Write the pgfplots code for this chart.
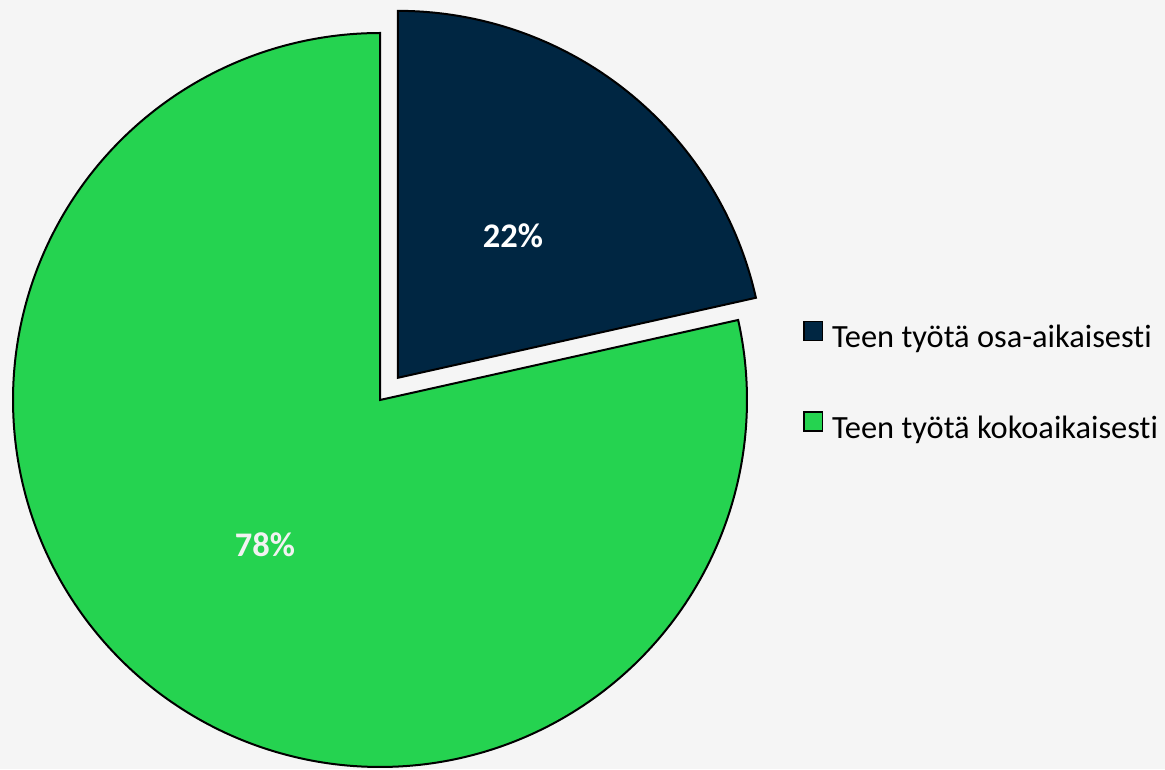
\documentclass[border=0pt]{standalone}
\usepackage{pgfplots}
\pgfplotsset{compat=1.18}
\usepackage{pgfplotstable}
\usepackage{fontspec}
\setmainfont[Ligatures={NoCommon}]{Carlito}
\definecolor{bg}{HTML}{F5F5F5}
\definecolor{navy}{HTML}{002642}
\definecolor{pgreen}{HTML}{25D350}
\definecolor{offwhite}{HTML}{F2F2F2}
\pgfplotstableread{
value
21.5
78.5
}\pietable
\pgfplotstablegetelem{0}{value}\of\pietable \let\va\pgfplotsretval
\pgfplotstablegetelem{1}{value}\of\pietable \let\vb\pgfplotsretval
\pgfmathsetmacro{\aend}{90-3.6*\va}
\pgfmathsetmacro{\gend}{\aend+360}
\pgfmathsetmacro{\amid}{(90+\aend)/2}
\pgfmathsetmacro{\cxa}{380+28.4*cos(\amid)}
\pgfmathsetmacro{\cya}{369+28.4*sin(\amid)}
\begin{document}
\begin{tikzpicture}
\begin{axis}[
  width=1165pt, height=769pt, scale only axis,
  xmin=0, xmax=1165, ymin=0, ymax=769,
  hide axis, clip=false,
  legend style={draw=none, fill=none, inner sep=0pt, outer sep=0pt, at={(axis cs:803,385.5)}, anchor=west,
    font=\fontsize{32.4}{38}\selectfont,
    nodes={inner sep=0pt, text height=21pt, text depth=8pt},
    row sep=56pt, column sep=9pt},
  legend cell align=left,
  legend image code/.code={\draw[line width=1.5pt, draw=black, #1] (0.75pt,0.5pt) rectangle (19.25pt,19.5pt);},
]
\path[fill=bg] (rel axis cs:0,0) rectangle (rel axis cs:1,1);
\addplot[draw=black, fill=navy, line width=2pt, line join=miter, domain=\aend:90, samples=120, variable=\t]
  ({\cxa+367*cos(\t)},{\cya+367*sin(\t)}) -- (axis cs:\cxa,\cya) -- cycle;
\addlegendentry{Teen työtä osa-aikaisesti}
\addplot[draw=black, fill=pgreen, line width=2pt, line join=miter, domain=90:\gend, samples=300, variable=\t]
  ({380+367*cos(\t)},{369+367*sin(\t)}) -- (axis cs:380,369) -- cycle;
\addlegendentry{Teen työtä kokoaikaisesti}
\node[font=\bfseries\fontsize{34.5}{40}\selectfont, text=white, inner sep=0pt] at (axis cs:513,533) {22\%};
\node[font=\bfseries\fontsize{34.5}{40}\selectfont, text=offwhite, inner sep=0pt] at (axis cs:265,224) {78\%};
\end{axis}
\pgfresetboundingbox
\useasboundingbox (current axis.south west) rectangle (current axis.north east);
\end{tikzpicture}
\end{document}
